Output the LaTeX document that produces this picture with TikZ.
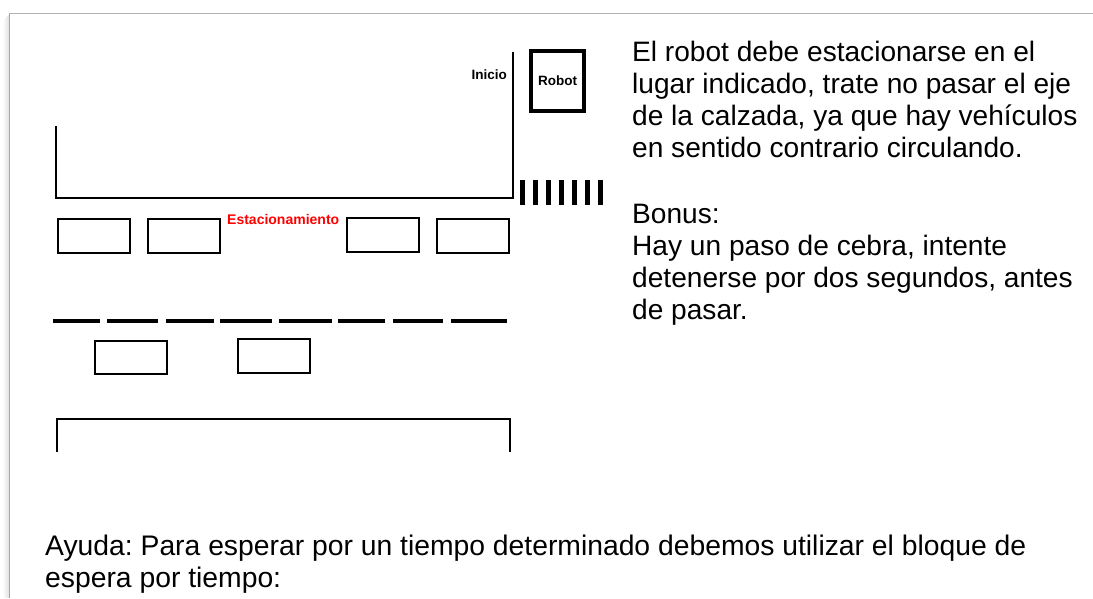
\documentclass[tikz,border=0pt]{standalone}
\usepackage{fontspec}
\setmainfont{Liberation Sans}
\frenchspacing
\begin{document}
\begin{tikzpicture}[x=1pt,y=-1pt,
  road/.style={line width=1.5pt,black},
  slot/.style={line width=1.5pt,black},
  dashline/.style={line width=4pt,black},
  zebra/.style={line width=5pt,black},
  bigtext/.style={font=\fontsize{28.1}{32}\selectfont,anchor=base west,inner sep=0pt},
  smalllabel/.style={font=\fontsize{13.5}{16}\selectfont\bfseries,inner sep=0pt}]
\useasboundingbox (0,0) rectangle (1093,598);
\fill[white] (0,0) rectangle (1093,598);
% page edge and shadow
\foreach \i in {1,...,6}{
  \draw[black, line width=1pt, opacity=0.12-0.018*\i] (9-\i,14+\i) -- (9-\i,598);
}
\draw[black!30, line width=1pt] (9,13) -- (1093,13);
\draw[black!35, line width=1pt] (9,13) -- (9,598);
% top road
\draw[road] (56,126) -- (56,198) -- (513,198) -- (513,52);
\node[smalllabel, anchor=east] (inicio) at (507,75) {Inicio};
\node[draw, line width=4pt, minimum width=53pt, minimum height=60pt, inner sep=0pt,
      font=\fontsize{13.5}{16}\selectfont\bfseries] (robot) at (557.5,81) {Robot};
% zebra crossing
\foreach \x in {522,535,548,561,574,587,600}{
  \draw[zebra] (\x,180) -- (\x,205);
}
% parking slots row 1
\draw[slot] (58,219) rectangle (130,253);
\draw[slot] (148,219) rectangle (220,253);
\node[smalllabel, text=red, anchor=west, font=\fontsize{14}{16}\selectfont\bfseries] (est) at (227,219.5) {Estacionamiento};
\draw[slot] (347,218) rectangle (419,252);
\draw[slot] (437,219) rectangle (509,253);
% lane dashes
\foreach \a/\b in {53/100,107/158,166/214,220/272,279/332,338/385,393/443,451/507}{
  \draw[dashline] (\a,321) -- (\b,321);
}
% parking slots row 2
\draw[slot] (95,341) rectangle (167,374);
\draw[slot] (238,339) rectangle (310,373);
% bottom road
\draw[road] (57,452) -- (57,419) -- (510,419) -- (510,452);
% texts
\node[bigtext] (t1a) at (632,61) {El robot debe estacionarse en el};
\node[bigtext] (t1b) at (632,93) {lugar indicado, trate no pasar el eje};
\node[bigtext] (t1c) at (632,125) {de la calzada, ya que hay vehículos};
\node[bigtext] (t1d) at (632,157.5) {en sentido contrario circulando.};
\node[bigtext] (t2a) at (632,223.5) {Bonus:};
\node[bigtext] (t2b) at (632,255) {Hay un paso de cebra, intente};
\node[bigtext] (t2c) at (632,287) {detenerse por dos segundos, antes};
\node[bigtext] (t2d) at (632,319) {de pasar.};
\node[bigtext, font=\fontsize{28.3}{32}\selectfont] (t3a) at (45,555.5) {Ayuda: Para esperar por un tiempo determinado debemos utilizar el bloque de};
\node[bigtext, font=\fontsize{28.3}{32}\selectfont] (t3b) at (45,587) {espera por tiempo:};
\end{tikzpicture}
\end{document}
